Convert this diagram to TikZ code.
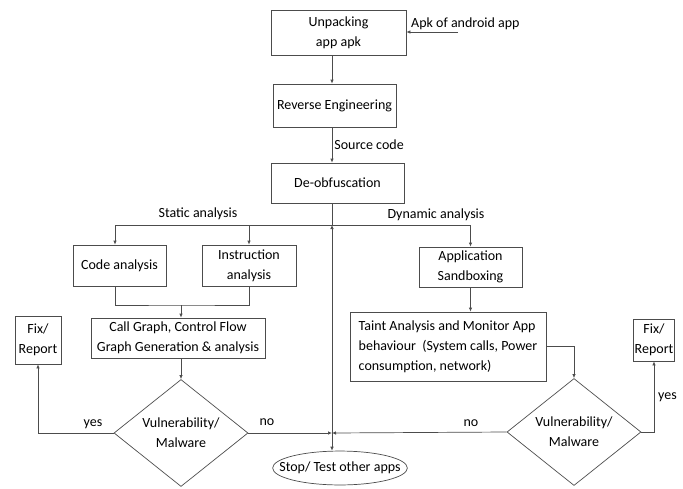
\documentclass[tikz,border=0pt]{standalone}
\usepackage{fontspec}
\setmainfont{Carlito}
\usetikzlibrary{
    arrows.meta,
    shapes.geometric,
    positioning
}

\begin{document}
\begin{tikzpicture}[x=1pt, y=-1pt,
    >={Latex[length=4pt, width=3.5pt]},
    every node/.style={font=\fontsize{14}{20}\selectfont},
    line/.style={draw=black!70, line width=0.7pt},
    box/.style={line, align=center, inner sep=1pt},
    decision/.style={line, diamond, align=center, inner sep=0pt,
        minimum width=134pt, minimum height=77pt},
    terminal/.style={line, ellipse, inner xsep=-13pt, inner ysep=6pt},
    lbl/.style={inner sep=2pt}]
    \useasboundingbox (0,0) rectangle (683,488);

    \node[box, minimum width=135pt, minimum height=45pt] (unpack) at (338.5, 32.5) {Unpacking\\app apk};
    \node[box, minimum width=123pt, minimum height=43pt] (reveng) at (334.5, 105.5) {Reverse Engineering};
    \node[box, minimum width=133pt, minimum height=40pt] (deobf) at (337.5, 183) {De-obfuscation};
    \node[box, minimum width=93pt, minimum height=41pt] (code) at (119.5, 265.5) {Code analysis};
    \node[box, minimum width=94pt, minimum height=41pt] (instr) at (249, 265.5) {Instruction\\analysis};
    \node[box, minimum width=174pt, minimum height=40pt] (callg) at (178, 338) {Call Graph, Control Flow\\Graph Generation \& analysis};
    \node[box, minimum width=103pt, minimum height=40pt] (sandbox) at (470.5, 267) {Application\\Sandboxing};
    \node[box, align=left, inner xsep=4pt, minimum width=196pt, minimum height=69pt] (taint) at (448, 346.5)
        {Taint Analysis and Monitor App\\behaviour~ (System calls, Power\\consumption, network)};
    \node[box, minimum width=46pt, minimum height=48pt] (fixl) at (38, 340) {Fix/\\Report};
    \node[box, minimum width=41pt, minimum height=42pt] (fixr) at (654, 340) {Fix/\\Report};
    \node[decision] (decl) at (181, 433) {Vulnerability/\\Malware};
    \node[decision] (decr) at (574, 432) {Vulnerability/\\Malware};
    \node[terminal] (stop) at (340, 468) {Stop/ Test other apps};

    \coordinate (apkin) at (458, 32);
    \coordinate (split) at (332, 225);
    \coordinate (join) at (181, 305);
    \coordinate (meet) at (332, 433);

    % labels
    \node[lbl, anchor=west] (apk) at (409, 24) {Apk of android app};
    \node[lbl] (static) at (198, 214) {Static analysis};
    \node[lbl] (dynamic) at (436, 215) {Dynamic analysis};
    \node[lbl] (yesl) at (93, 424) {yes};
    \node[lbl] (nol) at (267, 422) {no};
    \node[lbl] (nor) at (471, 423) {no};
    \node[lbl, anchor=west] (yesr) at (656, 397) {yes};

    \draw[line, ->] (apkin) -- (unpack.east |- apkin);
    \draw[line, ->] (unpack.south -| split) -- (reveng.north -| split);
    \draw[line, ->] (reveng.south -| split) -- node[lbl, right] (src) {Source code} (deobf.north -| split);
    \draw[line] (deobf.south -| split) -- (split);
    \draw[line, ->] (split) -| ([xshift=-4.5pt]code.north);
    \draw[line, ->] (split -| instr.north) -- (instr.north);
    \draw[line, ->] (split) -| (sandbox.north);
    \draw[line] ([xshift=-4.5pt]code.south) |- (join) -| (instr.south);
    \draw[line, ->] (join) -- (join |- callg.north);
    \draw[line, ->] (callg.south -| join) -- (decl.north);
    \draw[line, ->] (sandbox.south) -- (sandbox.south |- taint.north);
    \draw[line, ->] (taint.east) -| (decr.north);
    \draw[line, ->] (decl.west) -| (fixl.south);
    \draw[line, ->] (decr.east) -| (fixr.south);
    \draw[line, ->] (decl.east) -- (meet);
    \draw[line, ->] (decr.west) -- (meet);
    \draw[line, ->] (meet) -- (meet |- stop.north);
    \draw[line, ->] (meet) -- (split);
\end{tikzpicture}
\end{document}
